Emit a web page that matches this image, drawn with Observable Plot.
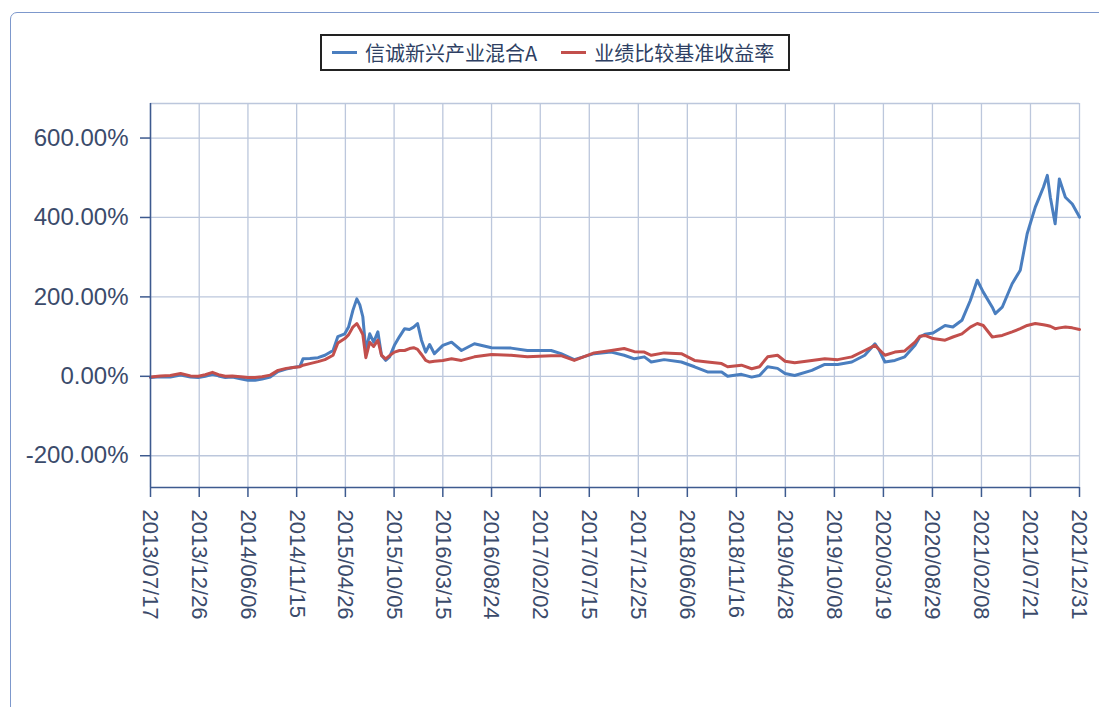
<!DOCTYPE html>
<html>
<head>
<meta charset="utf-8">
<script src="https://cdn.jsdelivr.net/npm/d3@7"></script>
<script src="https://cdn.jsdelivr.net/npm/@observablehq/plot@0.6"></script>
<style>
  html, body { margin: 0; padding: 0; background: #fff; }
  body { width: 1099px; height: 707px; position: relative; overflow: hidden; font-family: "Liberation Sans", Arial, sans-serif; }
  #frame { position: absolute; left: 10px; top: 12px; width: 1120px; height: 740px; border: 1.5px solid #7d98cc; border-radius: 7px; box-sizing: border-box; }
  #legend { position: absolute; left: 320px; top: 34px; width: 470px; height: 37px; border: 2px solid #222; box-sizing: border-box; display: flex; align-items: center; font-family: "Noto Sans CJK SC", sans-serif; font-size: 20px; color: #2e3f63; }
  .item { display: flex; align-items: center; }
  .sw { width: 25px; height: 3px; margin-right: 8px; }
  #chart { position: absolute; left: 0; top: 90px; }
</style>
</head>
<body>
<div id="frame"></div>
<div id="legend"></div>
<div id="chart"></div>
<script>
const seriesNames = ["信诚新兴产业混合A", "业绩比较基准收益率"];
const seriesColors = ["#4a7ebf", "#c24f4c"];

const dates = [
"2013-07-17","2013-08-19","2013-09-21","2013-10-25","2013-11-27","2013-12-23","2014-01-15","2014-02-08","2014-02-28","2014-03-23",
"2014-04-15","2014-05-12","2014-06-06","2014-06-30","2014-07-23","2014-08-19","2014-09-14","2014-10-11","2014-11-03","2014-11-26",
"2014-12-06","2014-12-29","2015-01-25","2015-02-17","2015-03-16","2015-04-01","2015-04-24","2015-05-07","2015-05-21","2015-06-03",
"2015-06-13","2015-06-23","2015-07-03","2015-07-16","2015-07-29","2015-08-12","2015-08-24","2015-09-07","2015-09-20","2015-10-06",
"2015-10-23","2015-11-09","2015-11-25","2015-12-09","2015-12-22","2016-01-04","2016-01-18","2016-01-31","2016-02-16","2016-03-15",
"2016-04-13","2016-05-16","2016-06-28","2016-08-24","2016-10-28","2016-12-21","2017-03-10","2017-04-12","2017-05-26","2017-07-31",
"2017-09-26","2017-11-08","2017-12-12","2018-01-14","2018-02-06","2018-03-21","2018-05-17","2018-06-30","2018-08-12","2018-09-28",
"2018-10-18","2018-12-03","2019-01-06","2019-02-01","2019-02-28","2019-04-02","2019-04-27","2019-05-29","2019-07-25","2019-09-06",
"2019-10-19","2019-12-05","2020-01-17","2020-02-20","2020-03-04","2020-03-24","2020-04-26","2020-05-29","2020-07-02","2020-07-18",
"2020-08-04","2020-08-31","2020-10-10","2020-11-05","2020-12-05","2021-01-02","2021-01-25","2021-02-14","2021-03-16","2021-03-26",
"2021-04-18","2021-05-21","2021-06-17","2021-07-10","2021-08-06","2021-09-02","2021-09-15","2021-09-25","2021-10-11","2021-10-25",
"2021-11-14","2021-12-07","2021-12-31"
];

const fundValues = [
-3,-1,-2,3,-2,-3,0,5,1,-3,
-2,-6,-10,-10,-7,-2,12,18,22,25,
44,45,47,53,65,100,107,125,166,195,
180,150,65,107,86,112,53,40,49,78,
100,120,118,124,133,91,61,80,57,78,
86,65,82,72,71,65,65,57,42,57,
61,53,44,49,36,42,36,24,11,11,
0,5,-2,2,24,20,7,2,15,30,
30,36,53,82,67,36,40,49,78,99,
106,109,128,124,141,191,242,212,174,158,
174,233,267,359,426,476,506,451,384,497,
451,434,401
];

const benchValues = [
-2,1,2,7,1,0,4,10,4,0,
1,-1,-3,-3,-1,3,15,20,22,24,
28,32,37,42,53,84,95,105,124,133,
120,105,47,86,75,91,53,44,52,61,
65,65,70,72,68,55,40,36,38,40,
44,40,49,55,53,49,52,52,40,59,
65,70,62,61,53,59,57,40,36,32,
24,28,19,24,49,53,38,34,40,44,
42,49,65,78,68,53,61,64,86,101,
103,95,91,99,107,124,133,128,99,100,
103,112,120,128,133,130,128,126,120,122,
124,122,118
];

const xTickLabels = [
"2013/07/17","2013/12/26","2014/06/06","2014/11/15","2015/04/26","2015/10/05","2016/03/15","2016/08/24","2017/02/02","2017/07/15",
"2017/12/25","2018/06/06","2018/11/16","2019/04/28","2019/10/08","2020/03/19","2020/08/29","2021/02/08","2021/07/21","2021/12/31"
];
const yTicks = [-200, 0, 200, 400, 600];
const yDomain = [-280, 687];

const parse = d3.utcParse("%Y-%m-%d");
const parseTick = d3.utcParse("%Y/%m/%d");
const xTicks = xTickLabels.map(parseTick);
const xDomain = [xTicks[0], xTicks[xTicks.length - 1]];

const rows = [];
dates.forEach((d, i) => {
  rows.push({date: parse(d), value: fundValues[i], series: seriesNames[0]});
});
dates.forEach((d, i) => {
  rows.push({date: parse(d), value: benchValues[i], series: seriesNames[1]});
});

// legend
const legend = document.getElementById("legend");
seriesNames.forEach((name, i) => {
  const it = document.createElement("div");
  it.className = "item";
  it.style.marginLeft = i === 0 ? "10px" : "24px";
  const sw = document.createElement("div");
  sw.className = "sw";
  sw.style.background = seriesColors[i];
  const tx = document.createElement("span");
  tx.textContent = name;
  it.appendChild(sw); it.appendChild(tx);
  legend.appendChild(it);
});

const axisColor = "#3d5a8f";
const textColor = "#3b4b6b";
const gridColor = "#bcc7dc";

const chart = Plot.plot({
  width: 1099,
  height: 617,
  marginLeft: 150,
  marginRight: 20,
  marginTop: 13,
  marginBottom: 220,
  style: {fontFamily: "'Liberation Sans', Arial, sans-serif", background: "transparent", overflow: "visible"},
  x: {type: "utc", domain: xDomain},
  y: {domain: yDomain},
  color: {domain: seriesNames, range: seriesColors},
  marks: [
    Plot.gridX(xTicks, {stroke: gridColor, strokeOpacity: 1, strokeWidth: 1.3}),
    Plot.gridY(yTicks, {stroke: gridColor, strokeOpacity: 1, strokeWidth: 1.3}),
    Plot.ruleY([yDomain[1]], {stroke: gridColor, strokeWidth: 1.3}),
    Plot.line(rows, {x: "date", y: "value", z: "series", stroke: "series", strokeWidth: 3, strokeLinejoin: "round"}),
    Plot.ruleX([xDomain[0]], {stroke: axisColor, strokeWidth: 1.5}),
    Plot.ruleY([yDomain[0]], {stroke: axisColor, strokeWidth: 1.5}),
    Plot.axisY(yTicks, {tickSize: 10, tickPadding: 12, fontSize: 24, stroke: axisColor, fill: textColor, strokeWidth: 1.5,
      tickFormat: d => d.toFixed(2) + "%", label: null}),
    Plot.axisX(xTicks, {tickSize: 10, tickPadding: 12, fontSize: 22, stroke: axisColor, fill: textColor, strokeWidth: 1.5,
      tickRotate: 90, tickFormat: d3.utcFormat("%Y/%m/%d"), label: null})
  ]
});
document.getElementById("chart").appendChild(chart);
</script>
</body>
</html>
